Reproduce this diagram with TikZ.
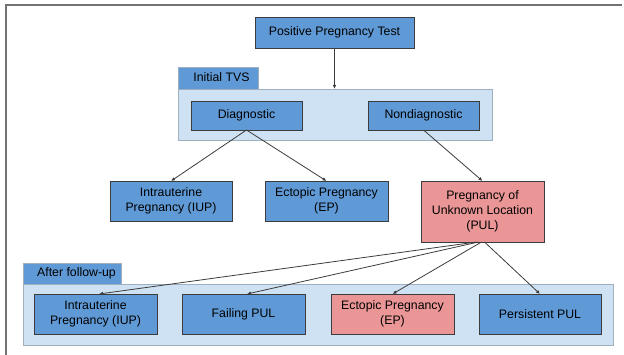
\documentclass[tikz,border=0pt]{standalone}
\usepackage{fontspec}
\setmainfont{Liberation Sans}
\usepackage{tikz}
\usetikzlibrary{arrows.meta}
\usetikzlibrary{positioning}
\definecolor{boxblue}{RGB}{96,154,214}
\definecolor{boxred}{RGB}{234,150,150}
\definecolor{panelblue}{RGB}{207,226,243}
\definecolor{panelline}{RGB}{160,175,190}
\definecolor{boxline}{RGB}{60,60,60}

\begin{document}
\begin{tikzpicture}[x=1pt,y=-1pt,font=\fontsize{12.3}{15.3}\selectfont]
			\tikzset{stage/.style = {shape=rectangle,draw=boxline,fill=boxblue,
					inner sep = 0pt, outer sep = 0pt, align=center,
					minimum width=123pt, minimum height=40pt}}
			\tikzset{stagered/.style = {stage,fill=boxred}}
			\tikzset{panel/.style = {shape=rectangle,draw=panelline,fill=panelblue,
					inner sep = 0pt, outer sep = 0pt}}
			\tikzset{tab/.style = {shape=rectangle,draw=panelline,fill=boxblue,
					inner sep = 0pt, outer sep = 0pt, anchor=south west, text depth=2pt}}
			\tikzset{edge/.style = {-{Latex[length=4pt,width=3.5pt]},draw=boxline,line width=0.8pt}}
			
			\useasboundingbox (0,0) rectangle (624,355);
			% frame
			\draw[line width=1.5pt,black!55] (622,5) -- (6,5) -- (6,355);
			
			% panels
			\node[panel, minimum width=314pt, minimum height=51pt] (tvsbox) at (335,114.5) {};
			\node[tab, minimum width=80pt, minimum height=22pt] (tvstab) at (178,89) {\hspace{7pt}Initial TVS\hspace{16pt}};
			\node[panel, minimum width=590pt, minimum height=61pt] (fubox) at (318,314.5) {};
			\node[tab, minimum width=98pt, minimum height=21pt] (futab) at (23,284) {\hspace{9pt}After follow-up\hspace{11pt}};
			
			% vertices
			\node[stage, minimum width=159pt, minimum height=31pt] (ppt) at (334.5,32.5) {Positive Pregnancy Test};
			\node[stage, minimum width=111pt, minimum height=29pt] (diag) at (246.5,115.5) {Diagnostic};
			\node[stage, minimum width=111pt, minimum height=29pt] (nondiag) at (423.5,115.5) {Nondiagnostic};
			
			\node[stage, minimum width=122pt] (iup) at (171,201) {Intrauterine\\Pregnancy (IUP)};
			\node[stage] (ep) at (326.5,201) {Ectopic Pregnancy\\(EP)};
			\node[stagered, minimum height=61pt] (pul) at (482.5,211.5) {Pregnancy of\\Unknown Location\\(PUL)};
			
			\node[stage] (iupfu) at (95.5,314) {Intrauterine\\Pregnancy (IUP)};
			\node[stage] (failing) at (243.5,314) {Failing PUL};
			\node[stagered] (epfu) at (392.5,314) {Ectopic Pregnancy\\(EP)};
			\node[stage, minimum width=122pt] (persist) at (540,314) {Persistent PUL};
			
			%edges
			\draw[edge] (ppt) -- (ppt |- tvsbox.north);
			\draw[edge] (diag.south) -- (iup.north);
			\draw[edge] (diag.south) -- (ep.north);
			\draw[edge] (nondiag.south) -- (pul.north);
			
			\draw[edge] ([xshift=-6pt]pul.south) -- ([xshift=3.5pt]iupfu.north);
			\draw[edge] ([xshift=-4pt]pul.south) -- ([xshift=3.5pt]failing.north);
			\draw[edge] ([xshift=-1pt]pul.south) -- (epfu.north);
			\draw[edge] ([xshift=2pt]pul.south) -- (persist.north);
			
\end{tikzpicture}
\end{document}
